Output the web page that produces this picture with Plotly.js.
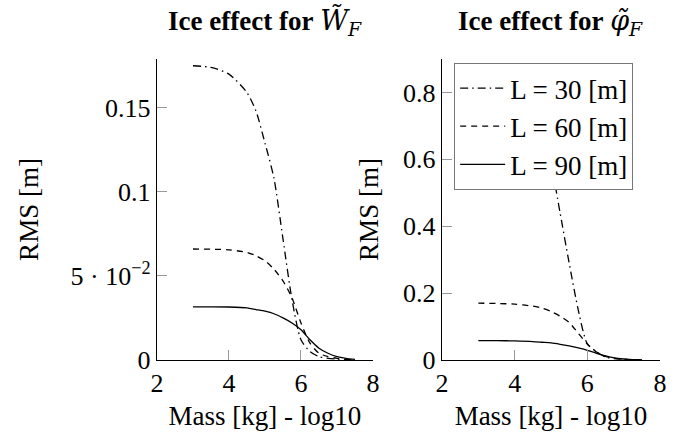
<!DOCTYPE html>
<html>
<head>
<meta charset="utf-8">
<script src="https://cdn.plot.ly/plotly-3.0.1.min.js"></script>
<style>html,body{margin:0;padding:0;background:#fff;}#chart{width:684px;height:432px;}</style>
</head>
<body>
<div id="chart"></div>
<script>
// log10 of mass [kg]
var massLog = [3, 3.5, 4, 4.5, 4.75, 5, 5.25, 5.5, 5.75, 6, 6.25, 6.5, 6.75, 7, 7.25, 7.5];

// Ice effect for W_F (RMS [m])
var wL30 = [0.175, 0.174, 0.170, 0.159, 0.148, 0.129, 0.108, 0.072, 0.036, 0.012, 0.005, 0.002, 0.001, 0.0005, 0.0002, 0.0001];
var wL60 = [0.066, 0.0659, 0.0655, 0.064, 0.062, 0.059, 0.054, 0.047, 0.037, 0.022, 0.010, 0.004, 0.002, 0.001, 0.0004, 0.0001];
var wL90 = [0.0316, 0.0316, 0.0315, 0.031, 0.030, 0.029, 0.0275, 0.025, 0.022, 0.018, 0.012, 0.007, 0.004, 0.002, 0.001, 0.0004];

// Ice effect for phi_F (RMS [m])
var pL30 = [0.88, 0.875, 0.85, 0.78, 0.70, 0.59, 0.44, 0.29, 0.15, 0.048, 0.025, 0.009, 0.004, 0.002, 0.001, 0.0];
var pL60 = [0.170, 0.169, 0.167, 0.161, 0.155, 0.145, 0.131, 0.112, 0.080, 0.048, 0.024, 0.011, 0.005, 0.002, 0.001, 0.0];
var pL90 = [0.058, 0.058, 0.057, 0.055, 0.053, 0.051, 0.047, 0.042, 0.036, 0.029, 0.020, 0.012, 0.006, 0.003, 0.001, 0.0003];

var seriesNames = ['L = 30 [m]', 'L = 60 [m]', 'L = 90 [m]'];
var dashes = ['8px,4px,1.5px,4px', '6px,5px', 'solid'];

var leftTickVals = [0, 0.05, 0.1, 0.15];
var leftTickText = ['0', '5 · 10<sup>−2</sup>', '0.1', '0.15'];
var rightTickVals = [0, 0.2, 0.4, 0.6, 0.8];
var rightTickText = ['0', '0.2', '0.4', '0.6', '0.8'];
var xTickVals = [2, 4, 6, 8];

var FONT = 'Liberation Serif, DejaVu Serif, serif';
var MATH = 'DejaVu Serif';

function tr(y, i, xa, ya, show) {
  return {
    x: massLog, y: y, xaxis: xa, yaxis: ya, mode: 'lines',
    name: seriesNames[i], showlegend: show,
    line: {color: '#000', width: 1.3, dash: dashes[i], shape: 'spline', smoothing: 0.7}
  };
}

var data = [
  tr(wL30, 0, 'x', 'y', false), tr(wL60, 1, 'x', 'y', false), tr(wL90, 2, 'x', 'y', false),
  tr(pL30, 0, 'x2', 'y2', true), tr(pL60, 1, 'x2', 'y2', true), tr(pL90, 2, 'x2', 'y2', true)
];

var axCommon = {
  showgrid: false, zeroline: false, showline: true, linecolor: '#000', linewidth: 1.2,
  ticks: 'inside', ticklen: 10, tickcolor: '#999', tickwidth: 1,
  tickfont: {family: FONT, size: 26, color: '#000'}
};
function ax(extra) { return Object.assign({}, axCommon, extra); }

var layout = {
  width: 684, height: 432,
  margin: {l: 0, r: 0, t: 0, b: 0},
  paper_bgcolor: '#fff', plot_bgcolor: 'rgba(0,0,0,0)',
  font: {family: FONT, size: 26, color: '#000'},
  xaxis: ax({domain: [0.2295, 0.5453], range: [2, 8], tickvals: xTickVals, anchor: 'y',
    title: {text: 'Mass [kg] - log10', font: {family: FONT, size: 27}, standoff: 8}}),
  yaxis: ax({domain: [0.1667, 0.8634], range: [0, 0.179], tickvals: leftTickVals, ticktext: leftTickText, anchor: 'x',
    title: {text: 'RMS [m]', font: {family: FONT, size: 27}, standoff: 24}}),
  xaxis2: ax({domain: [0.6462, 0.9649], range: [2, 8], tickvals: xTickVals, anchor: 'y2',
    title: {text: 'Mass [kg] - log10', font: {family: FONT, size: 27}, standoff: 8}}),
  yaxis2: ax({domain: [0.1667, 0.8634], range: [0, 0.90], tickvals: rightTickVals, ticktext: rightTickText, anchor: 'x2',
    title: {text: 'RMS [m]', font: {family: FONT, size: 27}, standoff: 16}}),
  legend: {
    x: 0.664, y: 0.854, xanchor: 'left', yanchor: 'top',
    bgcolor: '#fff', bordercolor: '#777', borderwidth: 1,
    font: {family: FONT, size: 27, color: '#000'},
    itemwidth: 45,
    tracegroupgap: 0
  },
  annotations: [
    {xref: 'paper', yref: 'paper', x: 0.3874, y: 0.948, xanchor: 'center', yanchor: 'middle', showarrow: false,
     text: '<b>Ice effect for</b> <span style="font-family:' + MATH + '"><i>W̃</i><sub><i>F</i></sub></span>', font: {family: FONT, size: 27}},
    {xref: 'paper', yref: 'paper', x: 0.8055, y: 0.948, xanchor: 'center', yanchor: 'middle', showarrow: false,
     text: '<b>Ice effect for</b> <span style="font-family:' + MATH + '"><i>φ̃</i><sub><i>F</i></sub></span>', font: {family: FONT, size: 27}}
  ]
};

Plotly.newPlot('chart', data, layout, {staticPlot: true, displayModeBar: false});
</script>
</body>
</html>
